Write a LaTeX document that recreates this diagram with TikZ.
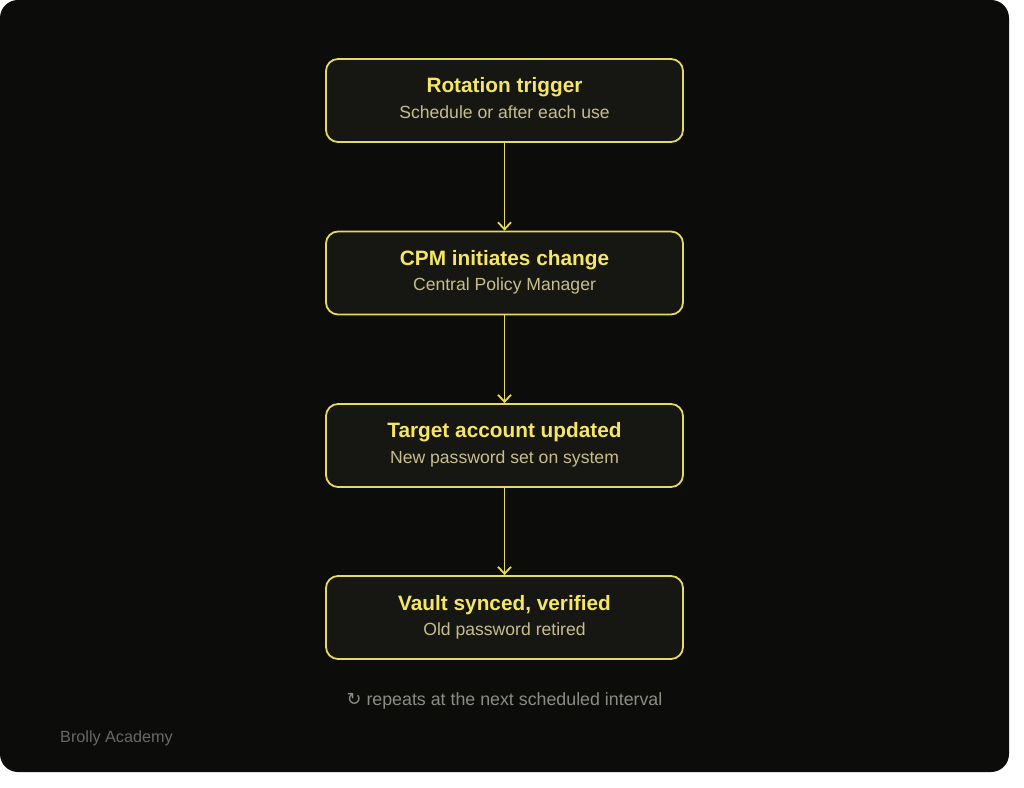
\documentclass[tikz,border=0pt]{standalone}
\usepackage{fontspec}
\setmainfont{Liberation Sans}
\newfontfamily\symfont{DejaVu Sans}
\usetikzlibrary{arrows.meta}
\definecolor{bgdark}{RGB}{12,12,11}
\definecolor{boxfill}{RGB}{22,22,18}
\definecolor{boxline}{RGB}{232,218,95}
\definecolor{titlecol}{RGB}{245,230,100}
\definecolor{subcol}{RGB}{200,190,140}
\definecolor{notecol}{RGB}{140,140,130}
\definecolor{brandcol}{RGB}{105,105,100}
\tikzset{
  stepbox/.style={draw=boxline, fill=boxfill, line width=1.8pt, rounded corners=12pt,
    minimum width=357pt, minimum height=83pt, inner sep=0pt},
  titletext/.style={anchor=base, text=titlecol, font=\fontsize{20.8}{24}\selectfont\bfseries, inner sep=0pt},
  subtext/.style={anchor=base, text=subcol, font=\fontsize{17.6}{20}\selectfont, inner sep=0pt},
  flow/.style={draw=boxline, line width=1.8pt, -{Straight Barb[length=7pt,width=13pt,line width=1.8pt]}}
}
\begin{document}
\begin{tikzpicture}[x=1pt,y=1pt]
\useasboundingbox (0,0) rectangle (1024,787);
\fill[white] (0,0) rectangle (1024,787);
\fill[bgdark, rounded corners=18pt] (0,15) rectangle (1009,787);

\node[stepbox] (b1) at (504.5,686.5) {};
\node[stepbox] (b2) at (504.5,514) {};
\node[stepbox] (b3) at (504.5,341.5) {};
\node[stepbox] (b4) at (504.5,169.5) {};

\node[titletext] (t1) at ([yshift=7.5pt]b1.center) {Rotation trigger};
\node[subtext] (s1) at ([yshift=-18pt]b1.center) {Schedule or after each use};
\node[titletext] (t2) at ([yshift=7.5pt]b2.center) {CPM initiates change};
\node[subtext] (s2) at ([yshift=-18pt]b2.center) {Central Policy Manager};
\node[titletext] (t3) at ([yshift=7.5pt]b3.center) {Target account updated};
\node[subtext] (s3) at ([yshift=-18pt]b3.center) {New password set on system};
\node[titletext] (t4) at ([yshift=7.5pt]b4.center) {Vault synced, verified};
\node[subtext] (s4) at ([yshift=-18pt]b4.center) {Old password retired};

\draw[flow] (b1.south) -- (b2.north);
\draw[flow] (b2.south) -- (b3.north);
\draw[flow] (b3.south) -- (b4.north);

\node[anchor=base, text=notecol, font=\fontsize{17.8}{20}\selectfont, inner sep=0pt] (note) at (504.5,82)
  {{\symfont ↻} repeats at the next scheduled interval};
\node[anchor=base west, text=brandcol, font=\fontsize{16.2}{18}\selectfont, inner sep=0pt] (brand) at (60,45)
  {Brolly Academy};
\end{tikzpicture}
\end{document}
